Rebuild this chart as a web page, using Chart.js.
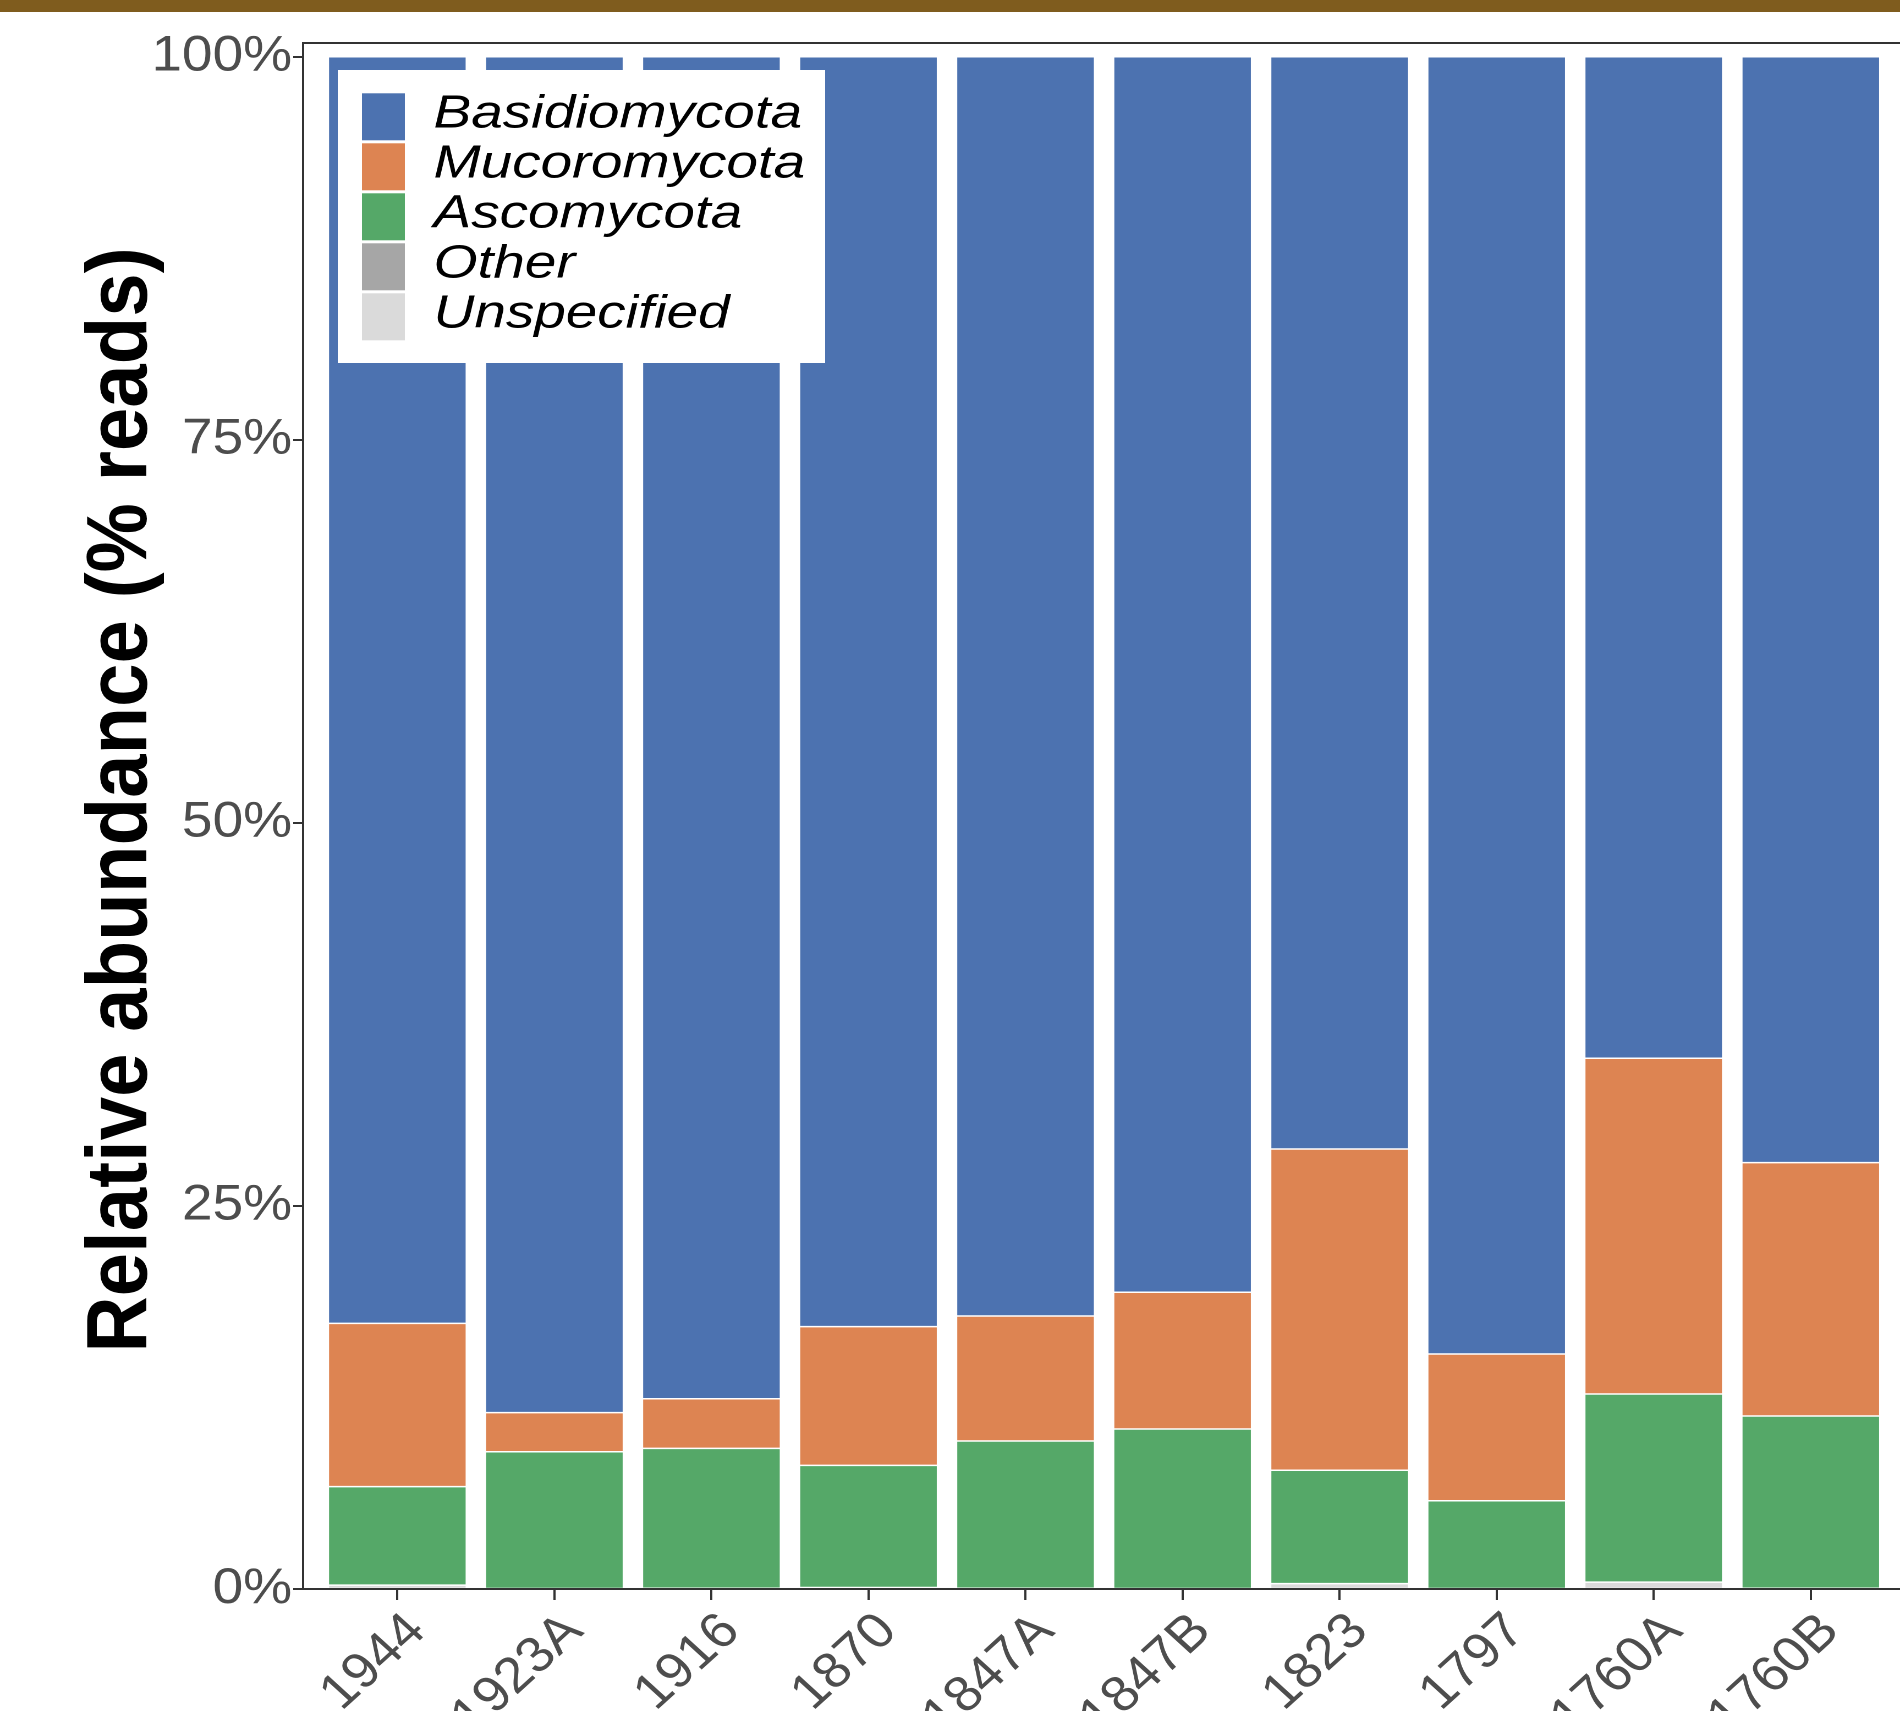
<!DOCTYPE html>
<html>
<head>
<meta charset="utf-8">
<script src="https://cdn.jsdelivr.net/npm/chart.js@4.4.1/dist/chart.umd.min.js"></script>
<style>
  html, body { margin: 0; padding: 0; background: #fff; width: 1900px; height: 1711px; overflow: hidden; }
  #band { position: absolute; left: 0; top: 0; width: 1900px; height: 12px; background: #7f5c1e; z-index: 2; }
  #chart { position: absolute; left: 0; top: 0; }
</style>
</head>
<body>
<div id="band"></div>
<canvas id="chart" width="1727" height="1711" style="width:1900px;height:1711px;"></canvas>
<script>
// Samples, oldest on the right
const samples = ['1944', '1923A', '1916', '1870', '1847A', '1847B', '1823', '1797', '1760A', '1760B'];

// Relative abundance per phylum (% of reads)
const basidiomycota = [82.66, 88.49, 87.58, 82.88, 82.18, 80.63, 71.28, 84.66, 65.36, 72.17];
const mucoromycota  = [10.66,  2.55,  3.24,  9.05,  8.16,  8.93, 20.97,  9.58, 21.91, 16.54];
const ascomycota    = [ 6.43,  8.96,  9.13,  7.97,  9.61, 10.44,  7.40,  5.76, 12.28, 11.24];
const other         = [ 0.00,  0.00,  0.00,  0.00,  0.00,  0.00,  0.00,  0.00,  0.00,  0.00];
const unspecified   = [ 0.25,  0.00,  0.05,  0.10,  0.05,  0.00,  0.35,  0.00,  0.45,  0.05];

const yTicks = [0, 25, 50, 75, 100];
const yTitle = 'Relative abundance (% reads)';

// Legend order (top of the stack first)
const phyla = [
  { label: 'Basidiomycota', values: basidiomycota, color: '#4c72b0' },
  { label: 'Mucoromycota',  values: mucoromycota,  color: '#dd8452' },
  { label: 'Ascomycota',    values: ascomycota,    color: '#55a868' },
  { label: 'Other',         values: other,         color: '#a6a6a6' },
  { label: 'Unspecified',   values: unspecified,   color: '#dadada' }
];

const FONT = '"Liberation Sans", Arial, Helvetica, sans-serif';

// Dark frame around the panel (top, left, bottom)
const panelFrame = {
  id: 'panelFrame',
  afterDatasetsDraw(chart) {
    const { ctx, chartArea: a } = chart;
    ctx.save();
    ctx.strokeStyle = '#333333';
    ctx.lineWidth = 2;
    ctx.beginPath();
    ctx.moveTo(a.right + 10, a.top);
    ctx.lineTo(a.left, a.top);
    ctx.lineTo(a.left, a.bottom);
    ctx.lineTo(a.right + 10, a.bottom);
    ctx.stroke();
    ctx.restore();
  }
};

// Legend boxed inside the panel, top-left, plus the rotated y title
const insideLegend = {
  id: 'insideLegend',
  afterDraw(chart) {
    const ctx = chart.ctx;
    ctx.save();
    ctx.fillStyle = '#ffffff';
    ctx.fillRect(307, 70, 443, 293);
    phyla.forEach((p, i) => {
      const top = 93.3 + 50 * i;
      ctx.fillStyle = p.color;
      ctx.fillRect(329, top, 39, 47);
      ctx.save();
      ctx.translate(394, top + 34);
      ctx.scale(1.12, 1);
      ctx.font = 'italic 46px ' + FONT;
      ctx.fillStyle = '#000000';
      ctx.textAlign = 'left';
      ctx.textBaseline = 'alphabetic';
      ctx.fillText(p.label, 0, 0);
      ctx.restore();
    });

    ctx.save();
    ctx.translate(111.5, 800);
    ctx.rotate(-Math.PI / 2);
    ctx.font = 'bold 78px ' + FONT;
    ctx.fillStyle = '#000000';
    ctx.textAlign = 'center';
    ctx.textBaseline = 'middle';
    ctx.fillText(yTitle, 0, 0);
    ctx.restore();
    ctx.restore();
  }
};

// Stack from the bottom up: Unspecified first, Basidiomycota last
const stackOrder = phyla.slice().reverse();

new Chart(document.getElementById('chart'), {
  type: 'bar',
  data: {
    datasets: stackOrder.map(p => ({
      label: p.label,
      data: p.values.map((v, i) => ({ x: i, y: v })),
      backgroundColor: p.color,
      borderColor: '#ffffff',
      borderWidth: 0.75,
      borderSkipped: false,
      barPercentage: 0.88,
      categoryPercentage: 1.0
    }))
  },
  options: {
    responsive: false,
    devicePixelRatio: 2,
    animation: false,
    layout: { padding: { top: 43, left: 0, right: 0, bottom: 0 } },
    plugins: { legend: { display: false }, tooltip: { enabled: false } },
    scales: {
      x: {
        type: 'linear',
        stacked: true,
        offset: false,
        bounds: 'data',
        min: -0.6,
        max: 9.568,
        afterBuildTicks: s => { s.ticks = samples.map((_, i) => ({ value: i })); },
        afterFit: s => { s.height = 122; s.paddingLeft = 0; s.paddingRight = 0; },
        border: { display: false },
        grid: { offset: false, drawOnChartArea: false, drawTicks: true, tickLength: 11, tickColor: '#333333', tickWidth: 2 },
        ticks: {
          autoSkip: false,
          minRotation: 45,
          maxRotation: 45,
          padding: 2,
          labelOffset: 18,
          color: '#4d4d4d',
          font: { family: FONT, size: 50 },
          callback: v => samples[v]
        }
      },
      y: {
        type: 'linear',
        stacked: true,
        bounds: 'data',
        min: 0,
        max: 100.9,
        afterBuildTicks: s => { s.ticks = yTicks.map(v => ({ value: v })); },
        afterFit: s => { s.width = 275.5; s.paddingTop = 0; s.paddingBottom = 0; },
        border: { display: false },
        grid: { drawOnChartArea: false, drawTicks: true, tickLength: 9, tickColor: '#333333', tickWidth: 2 },
        ticks: {
          padding: 1,
          color: '#4d4d4d',
          font: { family: FONT, size: 50 },
          callback: v => v + '%'
        }
      }
    }
  },
  plugins: [panelFrame, insideLegend]
});
</script>
</body>
</html>
